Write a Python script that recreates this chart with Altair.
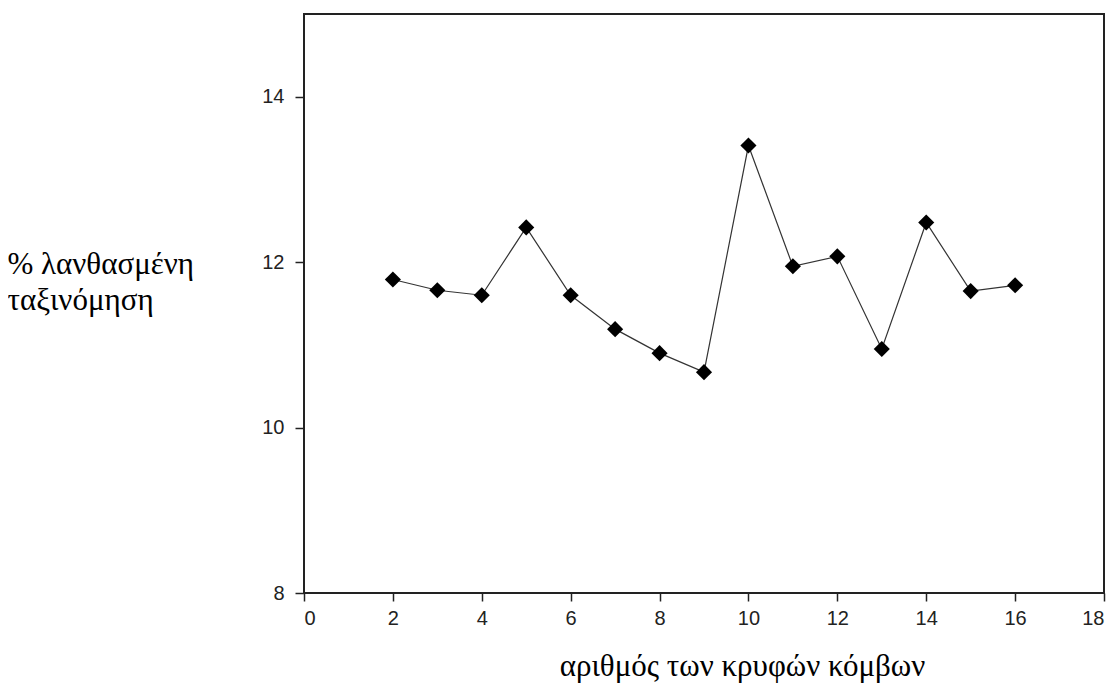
import altair as alt
import pandas as pd

# Data
hidden_nodes = [2, 3, 4, 5, 6, 7, 8, 9, 10, 11, 12, 13, 14, 15, 16]
misclass_pct = [11.79, 11.66, 11.60, 12.42, 11.60, 11.19, 10.90, 10.67,
                13.41, 11.95, 12.07, 10.95, 12.48, 11.65, 11.72]

x_ticks = [0, 2, 4, 6, 8, 10, 12, 14, 16, 18]
y_ticks = [8, 10, 12, 14]

x_title = "αριθμός των κρυφών κόμβων"
y_title = [" % λανθασμένη", "ταξινόμηση"]

SERIF = "Liberation Serif"
SANS = "Liberation Sans"

df = pd.DataFrame({"x": hidden_nodes, "y": misclass_pct})

x_enc = alt.X(
    "x:Q",
    scale=alt.Scale(domain=[0, 18], nice=False, zero=False),
    axis=alt.Axis(
        values=x_ticks,
        format="d",
        title=x_title,
        titleAlign="center",
        titleBaseline="alphabetic",
        titleX=438,
        titleY=82,
        labelPadding=7,
        tickSize=8,
    ),
)

y_enc = alt.Y(
    "y:Q",
    scale=alt.Scale(domain=[8, 15], nice=False, zero=False),
    axis=alt.Axis(
        values=y_ticks,
        format="d",
        title=y_title,
        titleAngle=0,
        titleAlign="left",
        titleBaseline="alphabetic",
        titleX=-297,
        titleY=259,
        titleLineHeight=36,
        labelPadding=11,
        tickSize=9,
    ),
)

line = alt.Chart(df).mark_line(color="#333", strokeWidth=1.2).encode(x=x_enc, y=y_enc)
pts = alt.Chart(df).mark_point(
    shape="diamond", filled=True, color="#000", opacity=1, size=260
).encode(x="x:Q", y="y:Q")

chart = (
    alt.layer(line, pts)
    .properties(
        width=800,
        height=579,
        autosize=alt.AutoSizeParams(type="none"),
        padding={"left": 296, "top": 6, "right": 8, "bottom": 90},
    )
    .configure(background="white", font=SERIF)
    .configure_view(stroke="#222", strokeWidth=2)
    .configure_axis(
        titleFont=SERIF,
        titleFontSize=31,
        titleFontWeight="normal",
        titleColor="#000",
        labelFont=SANS,
        labelFontSize=20,
        labelColor="#222",
        tickColor="#222",
        tickWidth=1.5,
        domain=False,
        grid=False,
    )
)

chart.save("out.html", embed_options={"renderer": "svg", "actions": False})
